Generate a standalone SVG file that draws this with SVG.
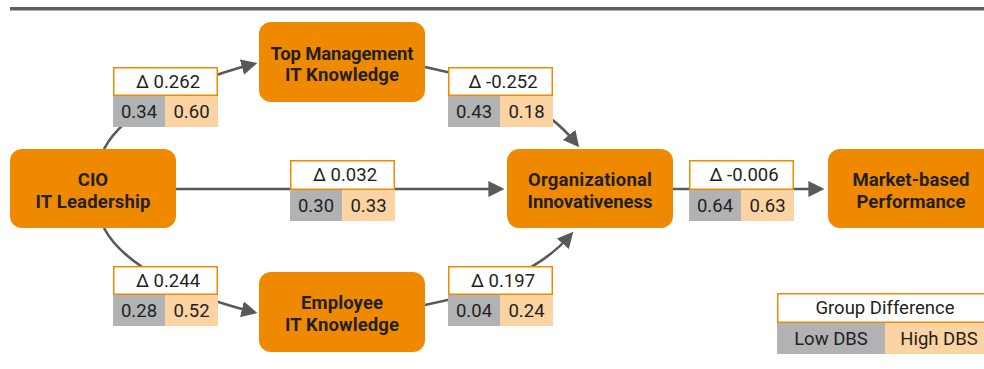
<svg xmlns="http://www.w3.org/2000/svg" width="984" height="369" viewBox="0 0 984 369">
  <defs>
    <marker id="arrow" markerUnits="userSpaceOnUse" markerWidth="16" markerHeight="16" viewBox="0 0 15 15" refX="9" refY="7.5" orient="auto">
      <path d="M0,0 L15,7.5 L0,15 Z" fill="#58595B"/>
    </marker>
    <style>
      .node rect { fill: #EF8A00; }
      .node text { font-family: Roboto, "Liberation Sans", sans-serif; font-weight: bold; font-size: 18.5px; fill: #231F20; text-anchor: middle; }
      .edge { fill: none; stroke: #58595B; stroke-width: 2.6; marker-end: url(#arrow); }
      .lbl text { font-family: Roboto, "Liberation Sans", sans-serif; font-size: 18.5px; fill: #231F20; text-anchor: middle; }
      .lbl .head { fill: #FFFFFF; stroke: #EF8A00; stroke-width: 1.5; }
      .lbl .low { fill: #B1B2B4; }
      .lbl .high { fill: #FCD3A2; }
    </style>
  </defs>

  <rect width="984" height="369" fill="#FFFFFF"/>

  <!-- header rule -->
  <line x1="10" y1="8.8" x2="984" y2="8.8" stroke="#5E5F61" stroke-width="3.4"/>

  <!-- connectors -->
  <g id="connectors">
    <path class="edge" d="M104,149 C125,109 190,81 251.2,64.6"/>
    <path class="edge" d="M425,67 C490,80 545,105 575.2,142.3"/>
    <path class="edge" d="M176,189 L498,189"/>
    <path class="edge" d="M673,189 L818,189"/>
    <path class="edge" d="M104,228 C125,268 190,296 251.2,311.5"/>
    <path class="edge" d="M425,305 C485,293 540,270 569.1,236.5"/>
  </g>

  <!-- nodes -->
  <g id="node-cio" class="node">
    <rect x="10" y="149" width="166" height="79" rx="12"/>
    <text x="93" y="186">CIO</text>
    <text x="93" y="208" textLength="115">IT Leadership</text>
  </g>
  <g id="node-top-management" class="node">
    <rect x="259" y="22" width="166" height="80" rx="12"/>
    <text x="342" y="60" textLength="143">Top Management</text>
    <text x="342" y="81" textLength="114">IT Knowledge</text>
  </g>
  <g id="node-employee" class="node">
    <rect x="259" y="272" width="166" height="80" rx="12"/>
    <text x="342" y="309" textLength="82">Employee</text>
    <text x="342" y="331" textLength="114">IT Knowledge</text>
  </g>
  <g id="node-innovativeness" class="node">
    <rect x="507" y="149" width="166" height="79" rx="12"/>
    <text x="590" y="186" textLength="124">Organizational</text>
    <text x="590" y="208" textLength="125">Innovativeness</text>
  </g>
  <g id="node-performance" class="node">
    <rect x="828" y="149" width="166" height="79" rx="12"/>
    <text x="911" y="186" textLength="117">Market-based</text>
    <text x="911" y="208" textLength="109">Performance</text>
  </g>

  <!-- path coefficients: group difference, low DBS, high DBS -->
  <g id="edge-labels">
    <g class="lbl" transform="translate(113,67)">
      <rect class="head" x="0.75" y="0.75" width="103.5" height="27.5"/>
      <rect class="low" x="0" y="29" width="52" height="31"/>
      <rect class="high" x="52" y="29" width="53" height="31"/>
      <text x="55" y="20.5">Δ 0.262</text>
      <text x="26" y="50.5">0.34</text>
      <text x="78.5" y="50.5">0.60</text>
    </g>
    <g class="lbl" transform="translate(448,67)">
      <rect class="head" x="0.75" y="0.75" width="103.5" height="27.5"/>
      <rect class="low" x="0" y="29" width="52" height="31"/>
      <rect class="high" x="52" y="29" width="53" height="31"/>
      <text x="55" y="20.5">Δ -0.252</text>
      <text x="26" y="50.5">0.43</text>
      <text x="78.5" y="50.5">0.18</text>
    </g>
    <g class="lbl" transform="translate(290,160)">
      <rect class="head" x="0.75" y="0.75" width="103.5" height="28.5"/>
      <rect class="low" x="0" y="30" width="52" height="31"/>
      <rect class="high" x="52" y="30" width="53" height="31"/>
      <text x="55" y="20.5">Δ 0.032</text>
      <text x="26" y="51.5">0.30</text>
      <text x="78.5" y="51.5">0.33</text>
    </g>
    <g class="lbl" transform="translate(689,160)">
      <rect class="head" x="0.75" y="0.75" width="103.5" height="28.5"/>
      <rect class="low" x="0" y="30" width="52" height="31"/>
      <rect class="high" x="52" y="30" width="53" height="31"/>
      <text x="55" y="20.5">Δ -0.006</text>
      <text x="26" y="51.5">0.64</text>
      <text x="78.5" y="51.5">0.63</text>
    </g>
    <g class="lbl" transform="translate(113,266)">
      <rect class="head" x="0.75" y="0.75" width="103.5" height="27.5"/>
      <rect class="low" x="0" y="29" width="52" height="31"/>
      <rect class="high" x="52" y="29" width="53" height="31"/>
      <text x="55" y="20.5">Δ 0.244</text>
      <text x="26" y="50.5">0.28</text>
      <text x="78.5" y="50.5">0.52</text>
    </g>
    <g class="lbl" transform="translate(448,266)">
      <rect class="head" x="0.75" y="0.75" width="103.5" height="27.5"/>
      <rect class="low" x="0" y="29" width="52" height="31"/>
      <rect class="high" x="52" y="29" width="53" height="31"/>
      <text x="55" y="20.5">Δ 0.197</text>
      <text x="26" y="50.5">0.04</text>
      <text x="78.5" y="50.5">0.24</text>
    </g>
  </g>

  <!-- legend -->
  <g id="legend" class="lbl" transform="translate(777,293)">
    <rect class="head" x="0.75" y="0.75" width="214.5" height="28.5"/>
    <rect class="low" x="0" y="30" width="108" height="31"/>
    <rect class="high" x="108" y="30" width="108" height="31"/>
    <text x="108" y="20.5">Group Difference</text>
    <text x="54" y="51.5">Low DBS</text>
    <text x="162" y="51.5">High DBS</text>
  </g>
</svg>
